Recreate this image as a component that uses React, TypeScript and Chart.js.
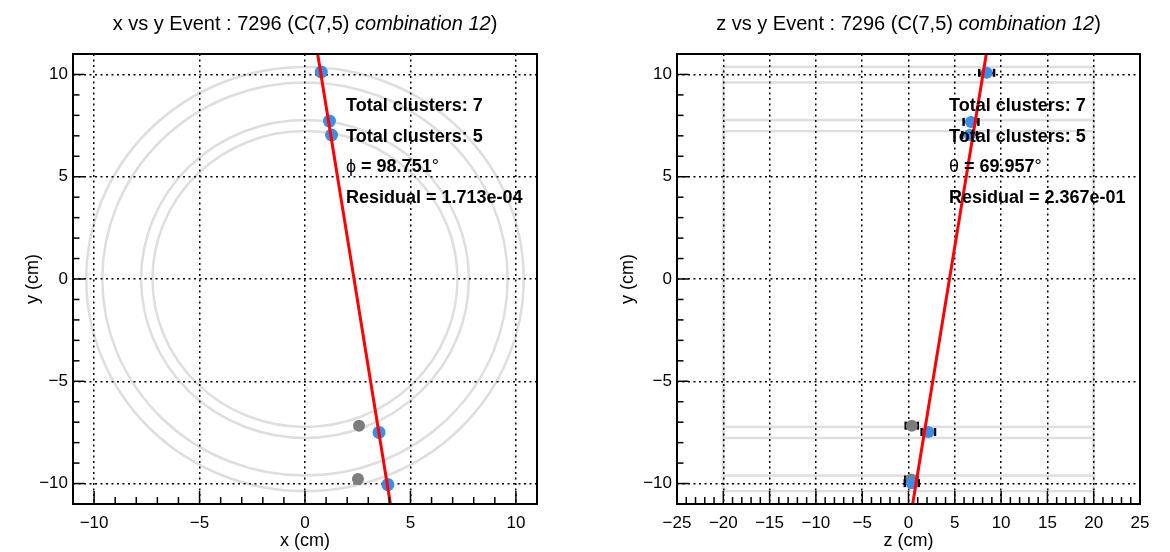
import React, { useEffect, useRef } from "react";
import { Chart, registerables } from "chart.js";

Chart.register(...registerables);

const FONT = '"Liberation Sans", Arial, Helvetica, sans-serif';
const BLUE = "rgb(58,141,232)";
const GRAY = "rgb(125,125,125)";
const GEOM = "rgb(222,222,222)";

// ---------- left panel: x vs y ----------
const xyUsedX = [0.77, 1.16, 1.26, 3.51, 3.93];
const xyUsedY = [10.12, 7.72, 7.04, -7.5, -10.05];
const xyUnusedX = [2.56, 2.51];
const xyUnusedY = [-7.17, -9.78];
const xyFitX = [0.6, 4.05];
const xyFitY = [11, -11];
const xyXTicks = [-10, -5, 0, 5, 10];
const xyYTicks = [-10, -5, 0, 5, 10];
const layerRadii = [7.23, 7.77, 9.61, 10.37];

// ---------- right panel: z vs y ----------
const zyUsedZ = [8.44, 6.75, 6.6, 2.14, 0.35];
const zyUsedY = [10.08, 7.68, 7.04, -7.48, -9.98];
const zyUsedErr = [0.8, 0.8, 0.8, 0.72, 0.75];
const zyUnusedZ = [0.35, 0.3];
const zyUnusedY = [-7.17, -9.8];
const zyUnusedErr = [0.65, 0.65];
const zyFitZ = [8.4, 0.45];
const zyFitY = [11, -11];
const zyZTicks = [-25, -20, -15, -10, -5, 0, 5, 10, 15, 20, 25];
const zyYTicks = [-10, -5, 0, 5, 10];
const layerHalfLength = 20;

// ---------- annotation texts ----------
const eventTitle = "Event : 7296 (C(7,5) ";
const comboText = "combination 12";
const totalClusters = ["Total clusters: 7", "Total clusters: 5"];
const xyAngle = { sym: "\u03D5", value: " = 98.751" };
const zyAngle = { sym: "\u03B8", value: " = 69.957" };
const xyResidual = "Residual = 1.713e-04";
const zyResidual = "Residual = 2.367e-01";

const fmt = (v: number) => (v < 0 ? "\u2212" + Math.abs(v) : String(v));
const setTicks = (values: number[]) => (scale: any) => {
  scale.ticks = values.map((v) => ({ value: v }));
};

type Spec = {
  left: number;
  axisWidth: number;
  padRight: number;
  yTitlePad: number;
  xName: string;
  xMin: number;
  xMax: number;
  xTicks: number[];
  yTicks: number[];
  geometry: "rings" | "boxes";
  infoX: number;
  angle: { sym: string; value: string };
  residual: string;
  datasets: any[];
};

function makePlugin(spec: Spec) {
  return {
    id: "rootPad",
    beforeDraw(chart: any) {
      const { ctx, chartArea } = chart;
      const xs = chart.scales.x;
      const ys = chart.scales.y;
      ctx.save();
      ctx.beginPath();
      ctx.rect(chartArea.left, chartArea.top, chartArea.width, chartArea.height);
      ctx.clip();
      ctx.strokeStyle = GEOM;
      ctx.lineWidth = 2.5;
      const cx = xs.getPixelForValue(0);
      const cy = ys.getPixelForValue(0);
      for (const r of layerRadii) {
        if (spec.geometry === "rings") {
          ctx.beginPath();
          ctx.ellipse(
            cx,
            cy,
            Math.abs(xs.getPixelForValue(r) - cx),
            Math.abs(ys.getPixelForValue(r) - cy),
            0,
            0,
            Math.PI * 2
          );
          ctx.stroke();
        } else {
          const x1 = xs.getPixelForValue(-layerHalfLength);
          const x2 = xs.getPixelForValue(layerHalfLength);
          const y1 = ys.getPixelForValue(r);
          const y2 = ys.getPixelForValue(-r);
          ctx.strokeRect(x1, y1, x2 - x1, y2 - y1);
        }
      }
      ctx.restore();
    },
    afterDraw(chart: any) {
      const { ctx, chartArea } = chart;
      const { left, right, top, bottom } = chartArea;
      const xs = chart.scales.x;
      const ys = chart.scales.y;
      ctx.save();
      ctx.strokeStyle = "#000";
      ctx.lineWidth = 1.5;
      // ticks inside the frame (major every 5, minor every 1)
      for (let v = Math.ceil(xs.min); v <= xs.max; v++) {
        const px = xs.getPixelForValue(v);
        const len = v % 5 === 0 ? 13 : 7;
        ctx.beginPath();
        ctx.moveTo(px, bottom);
        ctx.lineTo(px, bottom - len);
        ctx.stroke();
      }
      for (let v = Math.ceil(ys.min); v <= ys.max; v++) {
        const py = ys.getPixelForValue(v);
        const len = v % 5 === 0 ? 11.5 : 6.5;
        ctx.beginPath();
        ctx.moveTo(left, py);
        ctx.lineTo(left + len, py);
        ctx.stroke();
      }
      ctx.lineWidth = 2;
      ctx.strokeRect(left, top, right - left, bottom - top);

      // title
      ctx.fillStyle = "#000";
      ctx.textBaseline = "alphabetic";
      const lead = spec.xName + " vs y " + eventTitle;
      ctx.font = `20px ${FONT}`;
      const w1 = ctx.measureText(lead).width;
      const w3 = ctx.measureText(")").width;
      ctx.font = `italic 20px ${FONT}`;
      const w2 = ctx.measureText(comboText).width;
      let tx = (left + right) / 2 - (w1 + w2 + w3) / 2;
      ctx.font = `20px ${FONT}`;
      ctx.fillText(lead, tx, 30);
      tx += w1;
      ctx.font = `italic 20px ${FONT}`;
      ctx.fillText(comboText, tx, 30);
      tx += w2;
      ctx.font = `20px ${FONT}`;
      ctx.fillText(")", tx, 30);

      // info text
      const bold = `bold 18px ${FONT}`;
      const normal = `18px ${FONT}`;
      const ix = spec.infoX;
      ctx.font = bold;
      ctx.fillText(totalClusters[0], ix, 111);
      ctx.fillText(totalClusters[1], ix, 141.5);
      ctx.font = normal;
      ctx.fillText(spec.angle.sym, ix, 172);
      let ax = ix + ctx.measureText(spec.angle.sym).width;
      ctx.font = bold;
      ctx.fillText(spec.angle.value, ax, 172);
      ax += ctx.measureText(spec.angle.value).width;
      ctx.font = normal;
      ctx.fillText("\u00B0", ax, 172);
      ctx.font = bold;
      ctx.fillText(spec.residual, ix, 203);
      ctx.restore();
    },
  };
}

function Panel({ spec }: { spec: Spec }) {
  const ref = useRef<HTMLCanvasElement>(null);
  useEffect(() => {
    const chart = new Chart(ref.current as HTMLCanvasElement, {
      type: "scatter",
      data: { datasets: spec.datasets },
      plugins: [makePlugin(spec)],
      options: {
        animation: false,
        responsive: false,
        devicePixelRatio: 1,
        events: [],
        layout: { padding: { top: 54, right: spec.padRight, left: 0, bottom: 0 } },
        plugins: { legend: { display: false }, tooltip: { enabled: false }, title: { display: false } },
        scales: {
          x: {
            type: "linear",
            min: spec.xMin,
            max: spec.xMax,
            afterBuildTicks: setTicks(spec.xTicks),
            afterFit: (s: any) => {
              s.height = 48;
            },
            ticks: {
              font: { family: FONT, size: 17 },
              color: "#000",
              padding: 9,
              maxRotation: 0,
              autoSkip: false,
              callback: (v: any) => fmt(Number(v)),
            },
            grid: { color: "#000", lineWidth: 1.5, drawTicks: false },
            border: { display: false, dash: [2, 3.5] },
            title: {
              display: true,
              text: spec.xName + " (cm)",
              font: { family: FONT, size: 18 },
              color: "#000",
              padding: { top: 0, bottom: 0 },
            },
          },
          y: {
            type: "linear",
            min: -11,
            max: 11,
            afterBuildTicks: setTicks(spec.yTicks),
            afterFit: (s: any) => {
              s.width = spec.axisWidth;
            },
            ticks: {
              font: { family: FONT, size: 17 },
              color: "#000",
              padding: 5,
              autoSkip: false,
              callback: (v: any) => fmt(Number(v)),
            },
            grid: { color: "#000", lineWidth: 1.5, drawTicks: false },
            border: { display: false, dash: [2, 3.5] },
            title: {
              display: true,
              text: "y (cm)",
              font: { family: FONT, size: 18 },
              color: "#000",
              padding: { top: spec.yTitlePad, bottom: 0 },
            },
          },
        },
      } as any,
    });
    return () => chart.destroy();
  }, []);
  return (
    <canvas
      ref={ref}
      width={585}
      height={552}
      style={{ position: "absolute", left: spec.left, top: 0, width: 585, height: 552 }}
    />
  );
}

const pts = (xs: number[], ys: number[]) => xs.map((x, i) => ({ x, y: ys[i] }));

const fitLine = (xs: number[], ys: number[]) => ({
  data: pts(xs, ys),
  showLine: true,
  borderColor: "rgb(255,0,0)",
  borderWidth: 3,
  pointRadius: 0,
});

const markers = (xs: number[], ys: number[], color: string, r: number) => ({
  data: pts(xs, ys),
  pointRadius: r,
  pointBackgroundColor: color,
  pointBorderWidth: 0,
  backgroundColor: color,
  borderWidth: 0,
});

const errorBars = (zs: number[], ys: number[], errs: number[]) =>
  zs.map((z, i) => ({
    data: [
      { x: z - errs[i], y: ys[i] },
      { x: z + errs[i], y: ys[i] },
    ],
    showLine: true,
    borderColor: "#000",
    borderWidth: 2,
    pointStyle: "line",
    pointRotation: 90,
    pointRadius: 4,
    pointBorderColor: "#000",
    pointBorderWidth: 2.5,
  }));

const leftSpec: Spec = {
  left: 0,
  axisWidth: 73,
  padRight: 48,
  yTitlePad: 22,
  xName: "x",
  xMin: -11,
  xMax: 11,
  xTicks: xyXTicks,
  yTicks: xyYTicks,
  geometry: "rings",
  infoX: 346,
  angle: xyAngle,
  residual: xyResidual,
  datasets: [
    fitLine(xyFitX, xyFitY),
    markers(xyUsedX, xyUsedY, BLUE, 6.5),
    markers(xyUnusedX, xyUnusedY, GRAY, 6),
  ],
};

const rightSpec: Spec = {
  left: 585,
  axisWidth: 92,
  padRight: 30,
  yTitlePad: 32,
  xName: "z",
  xMin: -25,
  xMax: 25,
  xTicks: zyZTicks,
  yTicks: zyYTicks,
  geometry: "boxes",
  infoX: 364,
  angle: zyAngle,
  residual: zyResidual,
  datasets: [
    fitLine(zyFitZ, zyFitY),
    markers(zyUsedZ, zyUsedY, BLUE, 6),
    ...errorBars(zyUsedZ, zyUsedY, zyUsedErr),
    markers(zyUnusedZ, zyUnusedY, GRAY, 6),
    ...errorBars(zyUnusedZ, zyUnusedY, zyUnusedErr),
  ],
};

export default function App() {
  return (
    <div style={{ position: "absolute", left: 0, top: 0, width: 1170, height: 552, background: "#fff" }}>
      <Panel spec={leftSpec} />
      <Panel spec={rightSpec} />
    </div>
  );
}
